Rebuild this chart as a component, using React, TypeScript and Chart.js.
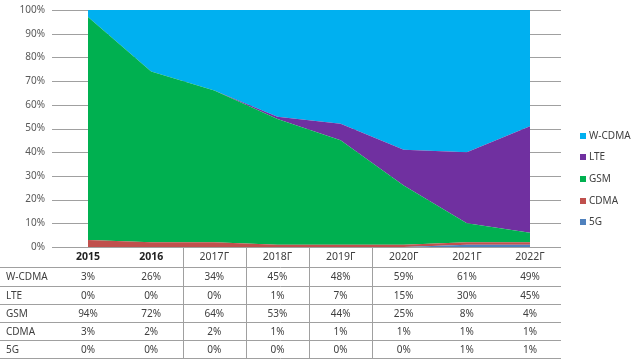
import React, { useEffect, useRef } from "react";
import { Chart, registerables } from "chart.js";

Chart.register(...registerables);

const years = ["2015", "2016", "2017Г", "2018Г", "2019Г", "2020Г", "2021Г", "2022Г"];
const wcdma = [3, 26, 34, 45, 48, 59, 61, 49];
const lte = [0, 0, 0, 1, 7, 15, 30, 45];
const gsm = [94, 72, 64, 53, 44, 25, 8, 4];
const cdma = [3, 2, 2, 1, 1, 1, 1, 1];
const g5 = [0, 0, 0, 0, 0, 0, 1, 1];
const yTicks = [0, 10, 20, 30, 40, 50, 60, 70, 80, 90, 100];

const seriesTop = [
  { name: "W-CDMA", data: wcdma, color: "#00B0F0" },
  { name: "LTE", data: lte, color: "#7030A0" },
  { name: "GSM", data: gsm, color: "#00B050" },
  { name: "CDMA", data: cdma, color: "#C0504D" },
  { name: "5G", data: g5, color: "#4F81BD" },
];

const FONT = "'Noto Sans', 'DejaVu Sans', sans-serif";

export default function App() {
  const ref = useRef<HTMLCanvasElement | null>(null);

  useEffect(() => {
    document.body.style.margin = "0";
    const canvas = ref.current;
    if (!canvas) return;
    const bottomFirst = [...seriesTop].reverse();

    const gridPlugin = {
      id: "gridLeft",
      beforeDatasetsDraw(chart: any) {
        const ctx = chart.ctx;
        const y = chart.scales.y;
        ctx.save();
        ctx.strokeStyle = "#A0A0A0";
        ctx.lineWidth = 1;
        yTicks.forEach((t) => {
          const py = Math.round(y.getPixelForValue(t)) + 0.5;
          ctx.beginPath();
          ctx.moveTo(52, py);
          ctx.lineTo(561, py);
          ctx.stroke();
        });
        ctx.fillStyle = "#595959";
        ctx.font = `10px ${FONT}`;
        ctx.textAlign = "right";
        ctx.textBaseline = "middle";
        yTicks.forEach((t) => {
          ctx.fillText(t + "%", 45, y.getPixelForValue(t));
        });
        ctx.restore();
      },
    };

    const tablePlugin = {
      id: "dataTable",
      afterDraw(chart: any) {
        const ctx = chart.ctx;
        const x = chart.scales.x;
        const top = chart.chartArea.bottom;
        const rowLines = [267, 286, 304, 322, 340, 358];
        ctx.save();
        ctx.strokeStyle = "#A0A0A0";
        ctx.lineWidth = 1;
        rowLines.forEach((ly) => {
          ctx.beginPath();
          ctx.moveTo(0, ly + 0.5);
          ctx.lineTo(561, ly + 0.5);
          ctx.stroke();
        });
        const step = x.getPixelForValue(1) - x.getPixelForValue(0);
        [2, 3, 4, 5].forEach((i) => {
          const vx = Math.round(x.getPixelForValue(i) - step / 2) + 0.5;
          ctx.beginPath();
          ctx.moveTo(vx, top);
          ctx.lineTo(vx, 358);
          ctx.stroke();
        });
        ctx.textAlign = "center";
        ctx.textBaseline = "middle";
        years.forEach((yr, i) => {
          ctx.font = i < 2 ? `bold 10.5px ${FONT}` : `10.5px ${FONT}`;
          ctx.fillStyle = i < 2 ? "#222222" : "#404040";
          ctx.fillText(yr, x.getPixelForValue(i), 257);
        });
        ctx.font = `10px ${FONT}`;
        seriesTop.forEach((s, r) => {
          const cy = (rowLines[r] + rowLines[r + 1]) / 2 + 1;
          ctx.fillStyle = "#404040";
          ctx.textAlign = "left";
          ctx.fillText(s.name, 6, cy);
          ctx.textAlign = "center";
          s.data.forEach((v, i) => {
            ctx.fillText(v + "%", x.getPixelForValue(i), cy);
          });
        });
        // legend
        const legendY = [136, 157, 179, 201, 222];
        seriesTop.forEach((s, r) => {
          ctx.fillStyle = s.color;
          ctx.fillRect(580, legendY[r] - 3, 6, 6);
          ctx.fillStyle = "#404040";
          ctx.textAlign = "left";
          ctx.font = `10px ${FONT}`;
          ctx.fillText(s.name, 589, legendY[r]);
        });
        ctx.restore();
      },
    };

    const chart = new Chart(canvas, {
      type: "line",
      data: {
        labels: years,
        datasets: bottomFirst.map((s, i) => ({
          label: s.name,
          data: s.data,
          backgroundColor: s.color,
          borderColor: s.color,
          borderWidth: 0,
          pointRadius: 0,
          fill: i === 0 ? "origin" : "-1",
          tension: 0,
        })),
      },
      options: {
        responsive: false,
        animation: false,
        layout: { padding: { left: 88, right: 110, top: 10, bottom: 115 } },
        plugins: { legend: { display: false }, tooltip: { enabled: false } },
        scales: {
          x: { display: false, offset: false },
          y: { display: false, stacked: true, min: 0, max: 100 },
        },
      },
      plugins: [gridPlugin, tablePlugin],
    });
    return () => chart.destroy();
  }, []);

  return (
    <div style={{ position: "absolute", left: 0, top: 0, width: 640, height: 362, background: "#fff" }}>
      <canvas ref={ref} width={640} height={362} style={{ display: "block" }} />
    </div>
  );
}
